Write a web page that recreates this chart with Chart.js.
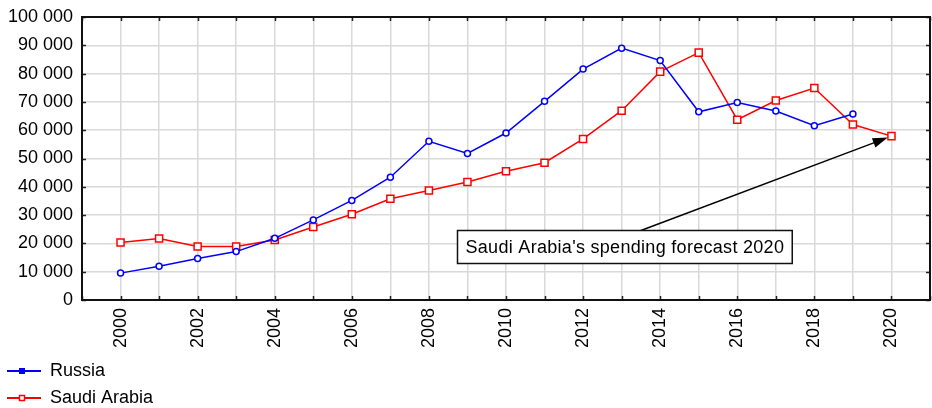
<!DOCTYPE html>
<html>
<head>
<meta charset="utf-8">
<script src="https://cdn.jsdelivr.net/npm/chart.js@4.4.0/dist/chart.umd.min.js"></script>
<style>
    body { margin: 0; background: #fff; }
    canvas { display: block; }
</style>
</head>
<body>
<canvas id="chart-spending" width="932" height="408"></canvas>
<script>
const years = [
    2000, 2001, 2002, 2003, 2004, 2005, 2006, 2007, 2008, 2009, 2010,
    2011, 2012, 2013, 2014, 2015, 2016, 2017, 2018, 2019, 2020,
];
const russia = [
    9500, 11900, 14700, 17100, 21800, 28300, 35200, 43400, 56100, 51800,
    59000, 70200, 81600, 89000, 84600, 66500, 69800, 66800, 61600, 65700,
];
const saudiArabia = [
    20300, 21700, 18900, 18900, 21200, 25800, 30300, 35800, 38700, 41700,
    45500, 48500, 56900, 66900, 80700, 87400, 63700, 70500, 74900, 62000,
    57900,
];
const seriesNames = ["Russia", "Saudi Arabia"];
const forecastNote = "Saudi Arabia's spending forecast 2020";

const FONT = "'Liberation Sans', Arial, sans-serif";
const FONT_SIZE = 18;

function formatThousands(v) {
    return String(v).replace(/\B(?=(\d{3})+(?!\d))/g, " ");
}

function isYearLabel(v) {
    return v % 2 === 0 && v >= years[0] && v <= years[years.length - 1];
}

// frame + inward tick marks like the original
const framePlugin = {
    id: "frame",
    afterDraw(chart) {
        const { ctx, chartArea: a, scales } = chart;
        ctx.save();
        ctx.strokeStyle = "#222";
        ctx.lineWidth = 1.5;
        ctx.beginPath();
        scales.x.ticks.forEach((t) => {
            const x = Math.round(scales.x.getPixelForValue(t.value)) + 0.5;
            ctx.moveTo(x, a.top);
            ctx.lineTo(x, a.top + 4);
            ctx.moveTo(x, a.bottom);
            ctx.lineTo(x, a.bottom - 4);
        });
        scales.y.ticks.forEach((t) => {
            const y = Math.round(scales.y.getPixelForValue(t.value)) + 0.5;
            ctx.moveTo(a.left, y);
            ctx.lineTo(a.left + 4, y);
            ctx.moveTo(a.right, y);
            ctx.lineTo(a.right - 4, y);
        });
        ctx.stroke();
        ctx.lineWidth = 2;
        ctx.strokeStyle = "#111";
        ctx.strokeRect(a.left, a.top, a.right - a.left, a.bottom - a.top);
        ctx.restore();
    },
};

// annotation box with an arrow to the 2020 forecast point
const forecastPlugin = {
    id: "forecast",
    afterDatasetsDraw(chart) {
        const { ctx, scales } = chart;
        const meta = chart.getDatasetMeta(1);
        const target = meta.data[meta.data.length - 1];
        ctx.save();
        ctx.font = `${FONT_SIZE}px ${FONT}`;
        ctx.letterSpacing = "0.3px";
        const tw = ctx.measureText(forecastNote).width;
        const cx = scales.x.getPixelForValue(2013.06);
        const cy = scales.y.getPixelForValue(19000);
        const w = tw + 16;
        const h = 33;
        const left = Math.round(cx - w / 2) + 0.5;
        const top = Math.round(cy - h / 2) + 0.5;

        // arrow
        const sx = scales.x.getPixelForValue(2013.5);
        const sy = top;
        const dx = target.x - sx;
        const dy = target.y - sy;
        const len = Math.hypot(dx, dy);
        const ux = dx / len;
        const uy = dy / len;
        const ex = target.x - ux * 4;
        const ey = target.y - uy * 4;
        ctx.strokeStyle = "#000";
        ctx.fillStyle = "#000";
        ctx.lineWidth = 1.5;
        ctx.beginPath();
        ctx.moveTo(sx, sy);
        ctx.lineTo(ex - ux * 10, ey - uy * 10);
        ctx.stroke();
        ctx.beginPath();
        ctx.moveTo(ex, ey);
        ctx.lineTo(ex - ux * 15 - uy * 5, ey - uy * 15 + ux * 5);
        ctx.lineTo(ex - ux * 15 + uy * 5, ey - uy * 15 - ux * 5);
        ctx.closePath();
        ctx.fill();

        // box
        ctx.fillStyle = "#fff";
        ctx.fillRect(left, top, w, h);
        ctx.lineWidth = 1.5;
        ctx.strokeStyle = "#111";
        ctx.strokeRect(left, top, w, h);
        ctx.fillStyle = "#000";
        ctx.textAlign = "center";
        ctx.textBaseline = "middle";
        ctx.fillText(forecastNote, left + w / 2, top + h / 2 + 1);
        ctx.restore();
    },
};

// stacked legend at bottom-left
const sideLegendPlugin = {
    id: "sideLegend",
    afterDraw(chart) {
        const ctx = chart.ctx;
        ctx.save();
        ctx.font = `${FONT_SIZE}px ${FONT}`;
        ctx.textBaseline = "middle";
        chart.data.datasets.forEach((ds, i) => {
            const y = 371 + i * 27;
            ctx.strokeStyle = ds.borderColor;
            ctx.lineWidth = 2;
            ctx.beginPath();
            ctx.moveTo(7, y);
            ctx.lineTo(41, y);
            ctx.stroke();
            if (i === 0) {
                ctx.fillStyle = ds.borderColor;
                ctx.fillRect(19, y - 3, 6, 6);
            } else {
                ctx.fillStyle = "#fff";
                ctx.fillRect(19.5, y - 2.5, 5, 5);
                ctx.lineWidth = 1.5;
                ctx.strokeRect(19.5, y - 2.5, 5, 5);
            }
            ctx.fillStyle = "#000";
            ctx.fillText(ds.label, 50, y);
        });
        ctx.restore();
    },
};

new Chart(document.getElementById("chart-spending"), {
    type: "line",
    data: {
        datasets: [
            {
                label: seriesNames[0],
                data: russia.map((v, i) => ({ x: years[i], y: v })),
                borderColor: "#0000ff",
                backgroundColor: "#ffffff",
                borderWidth: 1.5,
                pointStyle: "circle",
                pointRadius: 3,
                pointBorderWidth: 1.5,
                tension: 0,
            },
            {
                label: seriesNames[1],
                data: saudiArabia.map((v, i) => ({ x: years[i], y: v })),
                borderColor: "#ff0000",
                backgroundColor: "#ffffff",
                borderWidth: 1.5,
                pointStyle: "rect",
                pointRadius: 5,
                pointBorderWidth: 1.5,
                tension: 0,
            },
        ],
    },
    options: {
        responsive: false,
        animation: false,
        layout: {
            autoPadding: false,
            padding: { top: 17, right: 2, left: 0, bottom: 0 },
        },
        plugins: {
            legend: { display: false },
            tooltip: { enabled: false },
        },
        scales: {
            x: {
                type: "linear",
                min: 1999,
                max: 2021,
                afterFit: (scale) => {
                    scale.height = 108;
                    scale.paddingLeft = 0;
                    scale.paddingRight = 0;
                },
                ticks: {
                    stepSize: 1,
                    autoSkip: false,
                    minRotation: 90,
                    maxRotation: 90,
                    padding: 8,
                    color: "#000",
                    font: { family: FONT, size: FONT_SIZE },
                    callback: (v) => (isYearLabel(v) ? String(v) : ""),
                },
                grid: { color: "#d9d9d9", lineWidth: 1.5, drawTicks: false },
                border: { display: false },
            },
            y: {
                min: 0,
                max: 100000,
                afterFit: (scale) => {
                    scale.width = 82;
                    scale.paddingTop = 0;
                    scale.paddingBottom = 0;
                },
                ticks: {
                    stepSize: 10000,
                    padding: 9,
                    color: "#000",
                    font: { family: FONT, size: FONT_SIZE },
                    callback: (v) => formatThousands(v),
                },
                grid: { color: "#d9d9d9", lineWidth: 1.5, drawTicks: false },
                border: { display: false },
            },
        },
    },
    plugins: [framePlugin, forecastPlugin, sideLegendPlugin],
});
</script>
</body>
</html>
